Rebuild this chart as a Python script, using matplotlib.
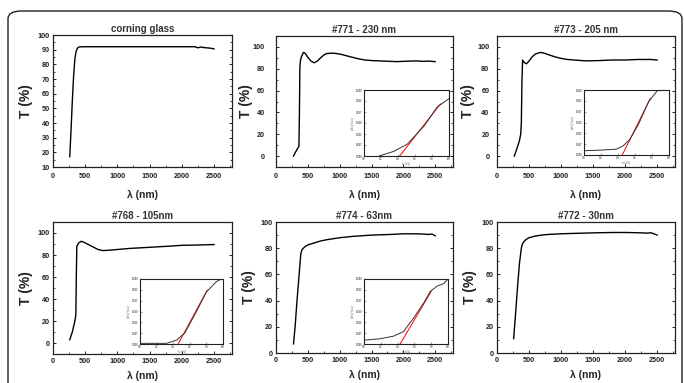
import numpy as np
import matplotlib
matplotlib.use("Agg")
from matplotlib import pyplot as plt
from matplotlib.patches import FancyBboxPatch
from matplotlib.ticker import MultipleLocator

plt.rcParams['font.family'] = ['Liberation Sans', 'DejaVu Sans']
plt.rcParams['font.weight'] = 'bold'

titles = ['corning glass', '#771 - 230 nm', '#773 - 205 nm',
          '#768 - 105nm', '#774 - 63nm', '#772 - 30nm']

# transmission spectra (wavelength nm, T %)
wl_glass = [260, 280, 300, 320, 340, 360, 380, 400, 450, 500, 1000, 1500, 2000,
            2200, 2250, 2300, 2350, 2400, 2450, 2500]
T_glass = [17, 35, 55, 72, 84, 89, 91, 91.8, 92, 92, 92, 92, 92,
           92, 91.3, 91.8, 91.4, 91.2, 91, 90.5]

wl_771 = [275, 300, 330, 360, 368, 375, 385, 400, 430, 460, 500, 550, 600, 650,
          700, 750, 800, 900, 1000, 1100, 1200, 1300, 1400, 1500, 1700, 1900,
          2000, 2100, 2200, 2300, 2400, 2500]
T_771 = [0, 3, 6, 9, 40, 82, 88, 91, 95, 94, 90.5, 87, 85.5, 87,
         90, 92.5, 94, 94.3, 93.5, 92, 90.5, 89, 88, 87.5, 87, 86.5,
         86.8, 87, 87.2, 86.8, 87, 86.5]

wl_773 = [270, 300, 350, 370, 380, 390, 400, 420, 460, 500, 550, 600, 680, 750,
          800, 900, 1000, 1100, 1200, 1400, 1600, 1800, 2000, 2200, 2400, 2500]
T_773 = [0, 5, 14, 20, 30, 70, 88, 86, 84.5, 87, 91, 93.5, 95, 94,
         93, 91, 89.5, 88.5, 88, 87.2, 87.5, 88, 88, 88.5, 88.5, 88]

wl_768 = [260, 300, 340, 355, 362, 370, 400, 440, 500, 600, 700, 775, 900, 1000,
          1200, 1500, 1800, 2000, 2200, 2500]
T_768 = [3, 10, 20, 26, 60, 88, 91, 92.5, 91, 88, 85, 84, 84.5, 85,
         86, 87, 88, 88.8, 89, 89.5]

wl_774 = [275, 300, 330, 360, 390, 410, 450, 500, 600, 700, 800, 1000, 1200,
          1500, 1800, 2000, 2200, 2300, 2400, 2450, 2500]
T_774 = [7, 20, 40, 58, 76, 79, 81, 82.5, 84, 85.5, 86.5, 88, 89,
         90, 90.5, 91, 91, 90.8, 90.5, 90.8, 89.5]

wl_772 = [260, 290, 320, 350, 380, 395, 420, 450, 500, 600, 700, 800, 1000, 1200,
          1500, 1800, 2000, 2200, 2350, 2400, 2450, 2500]
T_772 = [11, 30, 50, 68, 80, 83, 85, 86.5, 88, 89.3, 90, 90.5, 91, 91.3,
         91.7, 92, 92, 91.8, 91.5, 91.8, 91, 90]

# Tauc insets: h*nu (eV), (alpha h nu)^2 (a.u.), plus the red linear fit ends
hv_771 = [3.18, 3.35, 3.51, 3.71, 3.86, 4.0]
ah_771 = [0.0, 0.07, 0.18, 0.46, 0.74, 0.87]
fit_x_771 = [3.42, 3.9]
fit_y_771 = [0.0, 0.79]

hv_773 = [3.0, 3.2, 3.38, 3.46, 3.54, 3.64, 3.76, 3.82, 3.87]
ah_773 = [0.066, 0.075, 0.09, 0.14, 0.24, 0.47, 0.82, 0.92, 1.0]
fit_x_773 = [3.45, 3.78]
fit_y_773 = [0.0, 0.87]

hv_768 = [3.0, 3.32, 3.44, 3.54, 3.68, 3.8, 3.92, 3.98]
ah_768 = [0.01, 0.01, 0.06, 0.17, 0.5, 0.8, 0.96, 1.0]
fit_x_768 = [3.46, 3.81]
fit_y_768 = [0.0, 0.83]

hv_774 = [3.01, 3.19, 3.35, 3.47, 3.59, 3.71, 3.79, 3.87, 3.95, 4.0]
ah_774 = [0.06, 0.08, 0.12, 0.19, 0.4, 0.63, 0.81, 0.89, 0.93, 1.0]
fit_x_774 = [3.43, 3.8]
fit_y_774 = [0.0, 0.81]

W, H = 684, 383
fig = plt.figure(figsize=(W / 100, H / 100), dpi=100)


def rect(l, t, r, b):
    return [l / W, 1 - b / H, (r - l) / W, (b - t) / H]


frame = FancyBboxPatch((8 / W, -0.5), (682 - 8) / W, 1 - 11 / H + 0.5,
                       boxstyle="round,pad=0,rounding_size=0.02",
                       transform=fig.transFigure, fill=False,
                       edgecolor='#222222', linewidth=1.0)
fig.patches.append(frame)

spectra = [(wl_glass, T_glass), (wl_771, T_771), (wl_773, T_773),
           (wl_768, T_768), (wl_774, T_774), (wl_772, T_772)]
boxes = [(53, 35, 232, 167), (276, 36, 453, 167), (497, 36, 675, 167),
         (53, 222, 232, 354), (276, 222, 453, 353), (497, 222, 675, 353)]
ylims = [(10, 100), (-10, 110), (-10, 110), (-10, 110), (0, 100), (0, 100)]
ysteps = [10, 20, 20, 20, 20, 20]
ypads = [2.5, 8, 5.5, 2.5, 2.5, 2.5]
ylabelpads = [3, 0, 1.5, 3, 3, 3]
xlabelpads = [7.5, 7.5, 7.5, 4.5, 4.5, 4.5]

insets = {1: (hv_771, ah_771, fit_x_771, fit_y_771, (364, 90, 449, 156)),
          2: (hv_773, ah_773, fit_x_773, fit_y_773, (584, 90, 669, 155)),
          3: (hv_768, ah_768, fit_x_768, fit_y_768, (140, 279, 223, 344)),
          4: (hv_774, ah_774, fit_x_774, fit_y_774, (364, 279, 448, 344))}

ink = '#222222'
for i in range(6):
    ax = fig.add_axes(rect(*boxes[i]))
    x, y = spectra[i]
    ax.plot(x, y, color='black', linewidth=1.0)
    ax.set_xlim(0, 2780)
    ax.set_ylim(*ylims[i])
    ax.xaxis.set_major_locator(MultipleLocator(500))
    ax.yaxis.set_major_locator(MultipleLocator(ysteps[i]))
    ax.yaxis.set_minor_locator(MultipleLocator(ysteps[i] / 2))
    ax.xaxis.set_minor_locator(MultipleLocator(250))
    if ylims[i][0] < 0:
        ax.set_yticks(range(0, 101, 20))
    ax.tick_params(direction='in', length=2.5, width=0.7, labelsize=5.2,
                   colors=ink, right=True)
    ax.tick_params(axis='x', pad=4 if i < 3 else 3)
    ax.tick_params(axis='y', pad=ypads[i])
    ax.tick_params(which='minor', direction='in', length=1.5, width=0.5, right=True)
    for lab in ax.get_xticklabels() + ax.get_yticklabels():
        lab.set_fontweight('bold')
    for s in ax.spines.values():
        s.set_color(ink)
        s.set_linewidth(0.9)
    ax.set_title(titles[i], fontsize=7, fontweight='bold', color='#333333', pad=2.5)
    ax.set_xlabel('λ (nm)', fontsize=7.5, fontweight='bold', color=ink,
                  labelpad=xlabelpads[i])
    ax.set_ylabel('T (%)', fontsize=10, fontweight='bold', color=ink,
                  labelpad=ylabelpads[i])

    if i in insets:
        hv, ah, fx, fy, box = insets[i]
        ia = fig.add_axes(rect(*box))
        ia.plot(fx, fy, color='red', linewidth=0.7)
        ia.plot(hv, ah, color='#333333', linewidth=0.7)
        ia.set_xlim(3.0, 4.0)
        ia.set_ylim(0, 1.0)
        ia.set_xticks(np.linspace(3.0, 4.0, 6))
        ia.set_yticks(np.linspace(0, 1.0, 7))
        ia.tick_params(direction='in', length=1.2, width=0.4, labelsize=1.8,
                       colors='#555555', pad=1)
        ia.set_xlabel('hν (eV)', fontsize=1.8, labelpad=0.5, color='#555555')
        ia.set_ylabel('(αhν)² (a.u.)', fontsize=1.8, labelpad=0.5, color='#555555')
        for s in ia.spines.values():
            s.set_color(ink)
            s.set_linewidth(0.8)

fig.savefig('out.png', dpi=100)
